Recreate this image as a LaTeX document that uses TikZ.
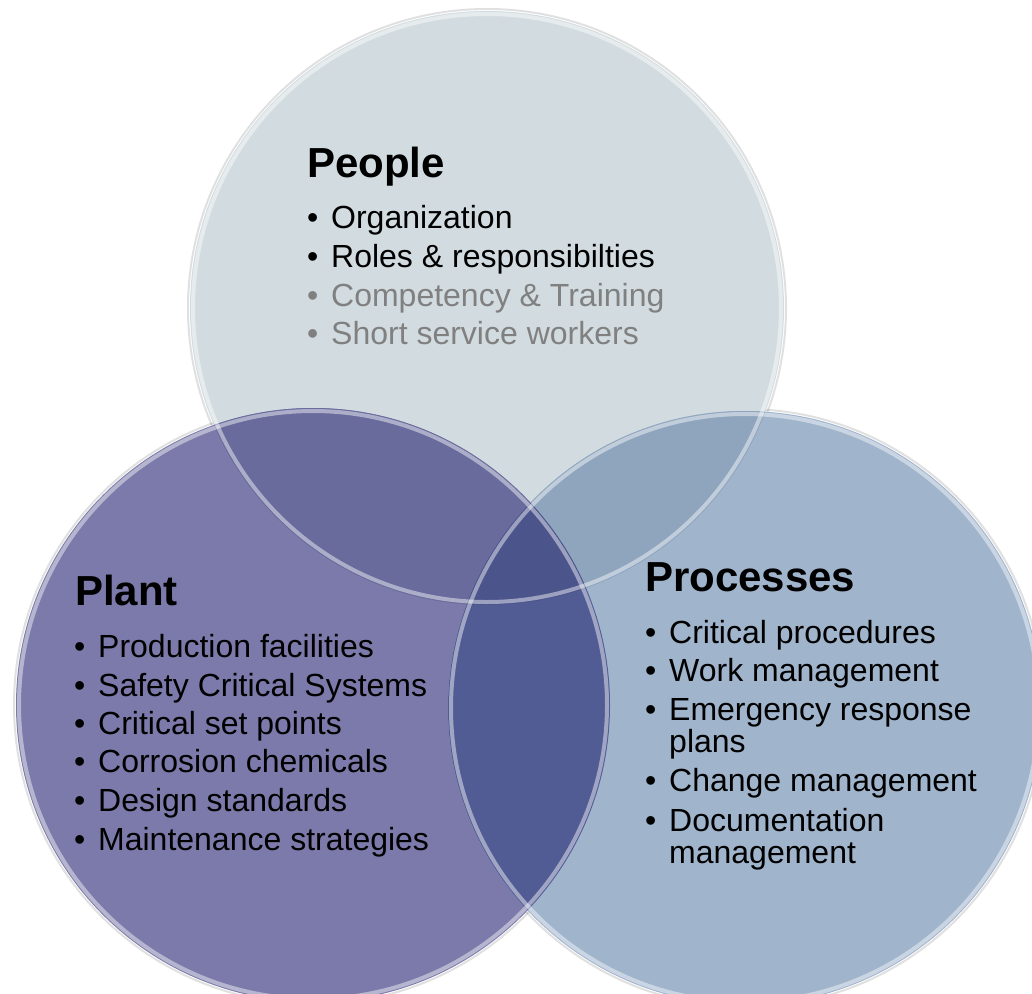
\documentclass[tikz,border=0pt]{standalone}
\usepackage{fontspec}
\setmainfont{Liberation Sans}
\definecolor{peopleC}{RGB}{210,220,224}
\definecolor{plantC}{RGB}{123,122,170}
\definecolor{procC}{RGB}{160,180,204}
\definecolor{peoplePlant}{RGB}{104,107,155}
\definecolor{peopleProc}{RGB}{143,165,190}
\definecolor{plantProc}{RGB}{82,92,148}
\definecolor{allThree}{RGB}{76,84,140}
\definecolor{dimText}{RGB}{128,128,128}
\newcommand\bul{\makebox[24pt][l]{\textbullet}}
\tikzset{
  titletext/.style={anchor=base west, inner sep=0pt, font=\fontsize{42}{42}\selectfont\bfseries},
  itemtext/.style={anchor=base west, inner sep=0pt, font=\fontsize{32}{32}\selectfont},
  dimtext/.style={itemtext, text=dimText},
  rim/.style={draw=white, opacity=0.45, line width=4pt},
  outerrim/.style={draw=black, opacity=0.12, line width=2pt}
}
\begin{document}
\begin{tikzpicture}[x=1pt,y=-1pt]
\useasboundingbox (0,0) rectangle (1032,993);
\clip (0,0) rectangle (1032,993);
\fill[white] (0,0) rectangle (1032,993);
\def\R{297}
\coordinate (cPeople) at (487,308);
\coordinate (cPlant) at (313,705);
\coordinate (cProc) at (745,708);
% outer soft edges
\draw[outerrim] (cPeople) circle[radius=\R pt+2pt];
\draw[outerrim] (cPlant) circle[radius=\R pt+2pt];
\draw[outerrim] (cProc) circle[radius=\R pt+2pt];
% base fills
\fill[peopleC] (cPeople) circle[radius=\R pt];
\fill[plantC] (cPlant) circle[radius=\R pt];
\fill[procC] (cProc) circle[radius=\R pt];
% overlaps
\begin{scope}
  \clip (cPeople) circle[radius=\R pt];
  \fill[peoplePlant] (cPlant) circle[radius=\R pt];
  \fill[peopleProc] (cProc) circle[radius=\R pt];
\end{scope}
\begin{scope}
  \clip (cPlant) circle[radius=\R pt];
  \fill[plantProc] (cProc) circle[radius=\R pt];
  \clip (cPeople) circle[radius=\R pt];
  \fill[allThree] (cProc) circle[radius=\R pt];
\end{scope}
% glassy rims
\draw[rim] (cPeople) circle[radius=\R pt-3pt];
\draw[rim] (cPlant) circle[radius=\R pt-3pt];
\draw[rim] (cProc) circle[radius=\R pt-3pt];

% People
\node[titletext] (tPeople) at (307,177) {People};
\node[itemtext] (p1) at (307,228) {\bul Organization};
\node[itemtext] (p2) at (307,267) {\bul Roles \& responsibilties};
\node[dimtext] (p3) at (307,306) {\bul Competency \& Training};
\node[dimtext] (p4) at (307,344) {\bul Short service workers};

% Plant
\node[titletext] (tPlant) at (75,605) {Plant};
\node[itemtext] (l1) at (74,657) {\bul Production facilities};
\node[itemtext] (l2) at (74,696) {\bul Safety Critical Systems};
\node[itemtext] (l3) at (74,734) {\bul Critical set points};
\node[itemtext] (l4) at (74,772) {\bul Corrosion chemicals};
\node[itemtext] (l5) at (74,811) {\bul Design standards};
\node[itemtext] (l6) at (74,850) {\bul Maintenance strategies};

% Processes
\node[titletext] (tProc) at (645,591) {Processes};
\node[itemtext] (r1) at (645,643) {\bul Critical procedures};
\node[itemtext] (r2) at (645,681) {\bul Work management};
\node[itemtext] (r3) at (645,720) {\bul Emergency response};
\node[itemtext] (r3b) at (669,752) {plans};
\node[itemtext] (r4) at (645,791) {\bul Change management};
\node[itemtext] (r5) at (645,831) {\bul Documentation};
\node[itemtext] (r5b) at (669,863) {management};
\end{tikzpicture}
\end{document}
